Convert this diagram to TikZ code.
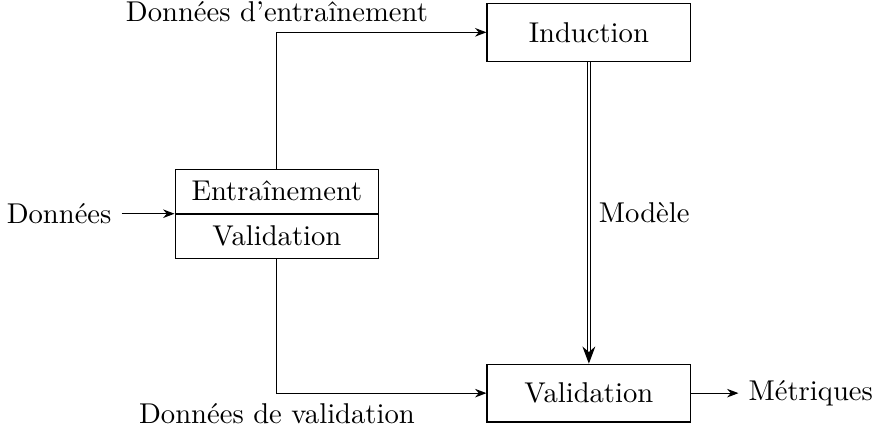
\documentclass[tikz,border=0pt]{standalone}
\usepackage{fontspec}
\usetikzlibrary{arrows.meta,positioning}

\tikzset{
  bloc/.style={draw,minimum width=2.5cm,minimum height=0.71cm},
  demi/.style={draw,minimum width=2.5cm,minimum height=0.54cm},
  fleche/.style={-{Stealth[length=4pt,width=3pt]}}
}

\begin{document}
\begin{tikzpicture}
  \useasboundingbox (-3.40,-2.74) rectangle (7.38,2.617);
  % partition des donnees
  \node[demi] (train) at (0,0.27) {Entraînement};
  \node[demi,below=0pt of train] (valid) {Validation};
  \node[left=0.65cm of train.south west] (data) {Données};
  % apprentissage puis evaluation
  \node[bloc] (induc) at (3.83,2.22) {Induction};
  \node[bloc] (check) at (3.83,-2.21) {Validation};
  \node[right=0.58cm of check] (score) {Métriques};

  \draw[fleche] (data) -- (train.south west);
  \draw[fleche] (train.north) |- (induc.west) node[pos=0.5,above] {Données d'entraînement};
  \draw[fleche] (valid.south) |- (check.west) node[pos=0.5,below] {Données de validation};
  \draw[double,-{Stealth[length=6pt,width=4.5pt]}] (induc.south) -- (check.north) node[midway,right] {Modèle};
  \draw[fleche] (check) -- (score);
\end{tikzpicture}
\end{document}
